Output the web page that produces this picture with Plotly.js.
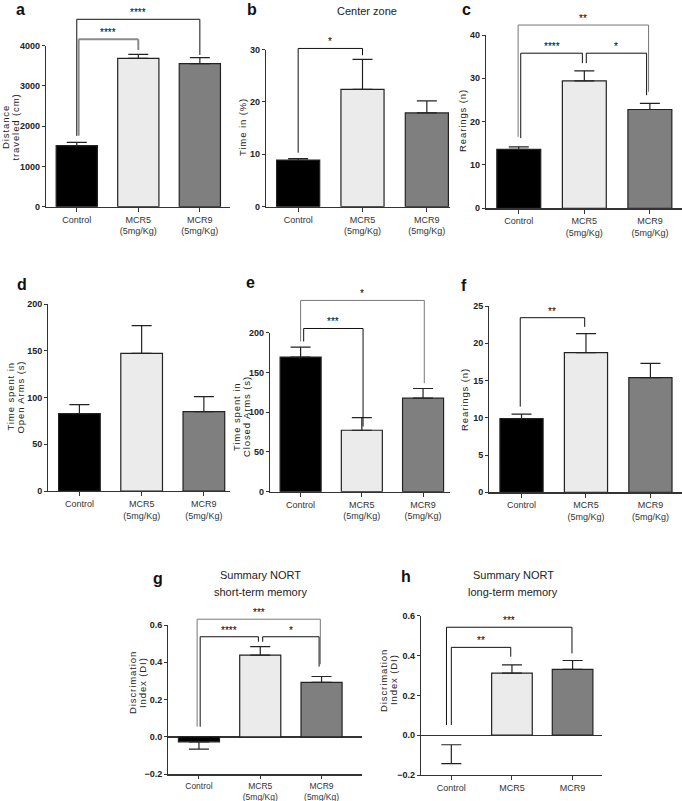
<!DOCTYPE html>
<html><head><meta charset="utf-8">
<script src="https://cdn.plot.ly/plotly-3.0.1.min.js"></script>
<style>html,body{margin:0;padding:0;background:#fff}</style>
</head><body><div id="chart" style="width:682px;height:801px"></div>
<script>
// ---------- data ----------
const groups = ['Control', 'MCR5<br>(5mg/Kg)', 'MCR9<br>(5mg/Kg)'];
const groupsShort = ['Control', 'MCR5', 'MCR9'];
const barColors = ['#000000', '#ebebeb', '#7f7f7f'];

const distanceMean = [1515, 3685, 3553];
const distanceSem = [85, 100, 149];
const centerMean = [8.9, 22.4, 17.9];
const centerSem = [0.3, 5.7, 2.3];
const rearOFMean = [13.6, 29.4, 22.8];
const rearOFSem = [0.6, 2.3, 1.4];
const openArmsMean = [82.9, 147.5, 85.0];
const openArmsSem = [9.6, 29.6, 16.0];
const closedArmsMean = [169.3, 77.3, 117.6];
const closedArmsSem = [12.6, 16.0, 12.2];
const rearEPMMean = [9.88, 18.74, 15.4];
const rearEPMSem = [0.62, 2.56, 1.9];
const diShortMean = [-0.026, 0.439, 0.293];
const diShortSem = [0.039, 0.045, 0.031];
const diLongMean = [-0.048, 0.312, 0.330];
const diLongSem = [0.095, 0.041, 0.045];

const ticksA = [0, 1000, 2000, 3000, 4000];
const ticksB = [0, 10, 20, 30];
const ticksC = [0, 10, 20, 30, 40];
const ticksD = [0, 50, 100, 150, 200];
const ticksE = [0, 50, 100, 150, 200];
const ticksF = [0, 5, 10, 15, 20, 25];
const ticksDI = [-0.2, 0.0, 0.2, 0.4, 0.6];

// significance brackets: [fromIndex, toIndex, lineLevel, leftLegEnd, rightLegEnd, label]
const sigA = [[0, 2, 4656, 1760, 3770, '****'], [0.03, 1, 4160, 1764, 3894, '****']];
const sigB = [[0, 1, 30.2, 10.3, 28.9, '*']];
const sigC = [[-0.01, 1.98, 42.3, 16.5, 26.9, '**'], [0.03, 0.97, 35.8, 16.2, 33.5, '****'], [1.03, 1.95, 35.8, 33.5, 26.1, '*']];
const sigE = [[0, 2.02, 240.6, 189, 136.5, '*'], [0.05, 1.02, 205.3, 189, 81.9, '***']];
const sigF = [[-0.02, 0.98, 23.43, 11.5, 22.2, '**']];
const sigG = [[-0.03, 1.98, 0.631, 0.055, 0.39, '***'], [0.02, 0.97, 0.537, 0.055, 0.51, '****'], [1.04, 1.96, 0.537, 0.51, 0.377, '*']];
const sigH = [[-0.08, 1.99, 0.542, 0.051, 0.411, '***'], [0, 0.98, 0.441, 0.051, 0.394, '**']];

// ---------- layout geometry (pixels in 682x801 canvas) ----------
const W = 682, H = 801;
const panels = [
  {letter:'a', mean:distanceMean, sem:distanceSem, cats:groups, ticks:ticksA, yr:[0,4000], xr:[-0.5,2.49], px:[46,230], py:[45.7,206.7], sig:sigA,
   ytitle:['Distance','traveled (cm)'], yt:[[6,127],[15.5,127]], lp:[20,9.5], sigColors:['#111','#8a8a8a'], sigW:[1,2]},
  {letter:'b', mean:centerMean, sem:centerSem, cats:groups, ticks:ticksB, yr:[0,30], xr:[-0.5,2.36], px:[266,450], py:[49.5,206.7], sig:sigB,
   ytitle:['Time in (%)'], yt:[[243,127]], lp:[252,9.5], title:['Center zone'], tp:[[367,11]]},
  {letter:'c', mean:rearOFMean, sem:rearOFSem, cats:groups, ticks:ticksC, yr:[0,40], xr:[-0.5,2.49], px:[486,682], py:[35,208.3], sig:sigC,
   ytitle:['Rearings (n)'], yt:[[462,120]], lp:[467,9.5], sigColors:['#777','#111','#111']},
  {letter:'d', mean:openArmsMean, sem:openArmsSem, cats:groups, ticks:ticksD, yr:[0,200], xr:[-0.5,2.42], px:[48.3,230], py:[304.3,491], sig:[],
   ytitle:['Time spent in','Open Arms (s)'], yt:[[9.5,397],[19.5,397]], lp:[22,284]},
  {letter:'e', mean:closedArmsMean, sem:closedArmsSem, cats:groups, ticks:ticksE, yr:[0,200], xr:[-0.5,2.44], px:[270,450], py:[332.7,491.7], sig:sigE,
   ytitle:['Time spent in','Closed Arms (s)'], yt:[[236,417],[246,417]], lp:[250,282], sigColors:['#777','#111']},
  {letter:'f', mean:rearEPMMean, sem:rearEPMSem, cats:groups, ticks:ticksF, yr:[0,25], xr:[-0.5,2.49], px:[489.3,682], py:[306,492.3], sig:sigF,
   ytitle:['Rearings (n)'], yt:[[464,399]], lp:[464,285]},
  {letter:'g', mean:diShortMean, sem:diShortSem, cats:groups, ticks:ticksDI, yr:[-0.2,0.6], xr:[-0.5,2.655], px:[168.3,361.7], py:[625,774.3], sig:sigG,
   ytitle:['Discrimation','Index (DI)'], yt:[[132,683],[142,683]], lp:[158,578], title:['Summary NORT','short-term memory'], tp:[[260,575],[260,592]],
   sigColors:['#777','#111','#111'], zero:true, catSize:8.5, xticklen:3},
  {letter:'h', mean:diLongMean, sem:diLongSem, cats:groupsShort, ticks:ticksDI, yr:[-0.2,0.6], xr:[-0.5,2.49], px:[421,602.3], py:[615.7,775], sig:sigH,
   ytitle:['Discrimation','Index (DI)'], yt:[[383,680],[393,680]], lp:[406,576], title:['Summary NORT','long-term memory'], tp:[[513,575],[513,592]],
   zero:true, hideFirst:true}
];

const fx = x => x / W;
const fy = y => 1 - y / H;
const AX = '#333';
const tickFont = {family:'"Liberation Sans Narrow", "Liberation Sans", Arial, sans-serif', size:9, color:'#222', weight:'bold'};
const titleFont = {family:'"Liberation Sans", Arial, sans-serif', size:9.5, color:'#222'};

const traces = [], shapes = [], annotations = [];
const layout = {width:W, height:H, margin:{l:0,r:0,t:0,b:0}, showlegend:false,
  paper_bgcolor:'#fff', plot_bgcolor:'rgba(0,0,0,0)', shapes, annotations, bargap:0.33};

panels.forEach((p, i) => {
  const n = i === 0 ? '' : String(i + 1);
  const xa = 'xaxis' + n, ya = 'yaxis' + n;
  const xd = [fx(p.px[0]), fx(p.px[1])];
  const yd = [fy(p.py[1]), fy(p.py[0])];
  const plus = p.mean.map((m, k) => m >= 0 ? p.sem[k] : 0);
  const minus = p.mean.map((m, k) => m < 0 ? p.sem[k] : 0);
  const fill = barColors.map((c, k) => (p.hideFirst && k === 0) ? 'rgba(0,0,0,0)' : c);
  const lw = barColors.map((c, k) => (p.hideFirst && k === 0) ? 0 : 1.2);
  traces.push({type:'bar', x:[0,1,2], y:p.mean, width:0.67, xaxis:'x'+n, yaxis:'y'+n,
    marker:{color:fill, line:{color:'#222', width:lw}},
    error_y:{type:'data', symmetric:false, array:plus, arrayminus:minus, color:'#222', thickness:1.2, width:10},
    hoverinfo:'skip'});
  layout[xa] = {domain:xd, anchor:'y'+n, range:p.xr, tickvals:[0,1,2], ticktext:p.cats,
    showline:true, linecolor:AX, linewidth:1.2, ticks:'outside', ticklen:p.xticklen || 4, tickcolor:AX,
    showgrid:false, zeroline:false, fixedrange:true,
    tickfont:{family:'"Liberation Sans", Arial, sans-serif', size:p.catSize || 9, color:'#333'}};
  layout[ya] = {domain:yd, anchor:'x'+n, range:p.yr, tickvals:p.ticks,
    tickformat: p.zero ? '.1f' : '', showline:true, linecolor:AX, linewidth:1.2,
    ticks:'outside', ticklen:3, tickcolor:AX, showgrid:false,
    zeroline:!!p.zero, zerolinecolor:AX, zerolinewidth:1.2, tickfont:tickFont, fixedrange:true};
  // data value -> paper y, through the axis range/domain
  const vy = v => yd[0] + (v - p.yr[0]) / (p.yr[1] - p.yr[0]) * (yd[1] - yd[0]);
  p.sig.forEach((s, k) => {
    const col = (p.sigColors && p.sigColors[k]) || '#111';
    const w = (p.sigW && p.sigW[k]) || 1;
    const line = {color:col, width:w};
    const base = {type:'line', xref:'x'+n, yref:'paper', line};
    shapes.push(Object.assign({}, base, {x0:s[0], x1:s[0], y0:vy(s[3]), y1:vy(s[2])}));
    shapes.push(Object.assign({}, base, {x0:s[0], x1:s[1], y0:vy(s[2]), y1:vy(s[2])}));
    shapes.push(Object.assign({}, base, {x0:s[1], x1:s[1], y0:vy(s[2]), y1:vy(s[4])}));
    annotations.push({xref:'x'+n, yref:'paper', x:(s[0]+s[1])/2, y:vy(s[2]), text:s[5],
      showarrow:false, xanchor:'center', yanchor:'bottom', yshift:-1,
      font:{family:'"Liberation Sans", Arial, sans-serif', size:10, color:'#000'}});
  });
  p.ytitle.forEach((t, k) => {
    annotations.push({xref:'paper', yref:'paper', x:fx(p.yt[k][0]), y:fy(p.yt[k][1]),
      text:'<span style="letter-spacing:0.9px">' + t + '</span>', textangle:-90, showarrow:false,
      xanchor:'center', yanchor:'middle', font:titleFont});
  });
  annotations.push({xref:'paper', yref:'paper', x:fx(p.lp[0]), y:fy(p.lp[1]), text:'<b>' + p.letter + '</b>',
    showarrow:false, xanchor:'center', yanchor:'middle',
    font:{family:'"Liberation Sans", Arial, sans-serif', size:16, color:'#111'}});
  if (p.title) p.title.forEach((t, k) => {
    annotations.push({xref:'paper', yref:'paper', x:fx(p.tp[k][0]), y:fy(p.tp[k][1]), text:t,
      showarrow:false, xanchor:'center', yanchor:'middle',
      font:{family:'"Liberation Sans", Arial, sans-serif', size:11, color:'#222'}});
  });
});

Plotly.newPlot('chart', traces, layout, {staticPlot:true, displayModeBar:false});
</script>
</body></html>
